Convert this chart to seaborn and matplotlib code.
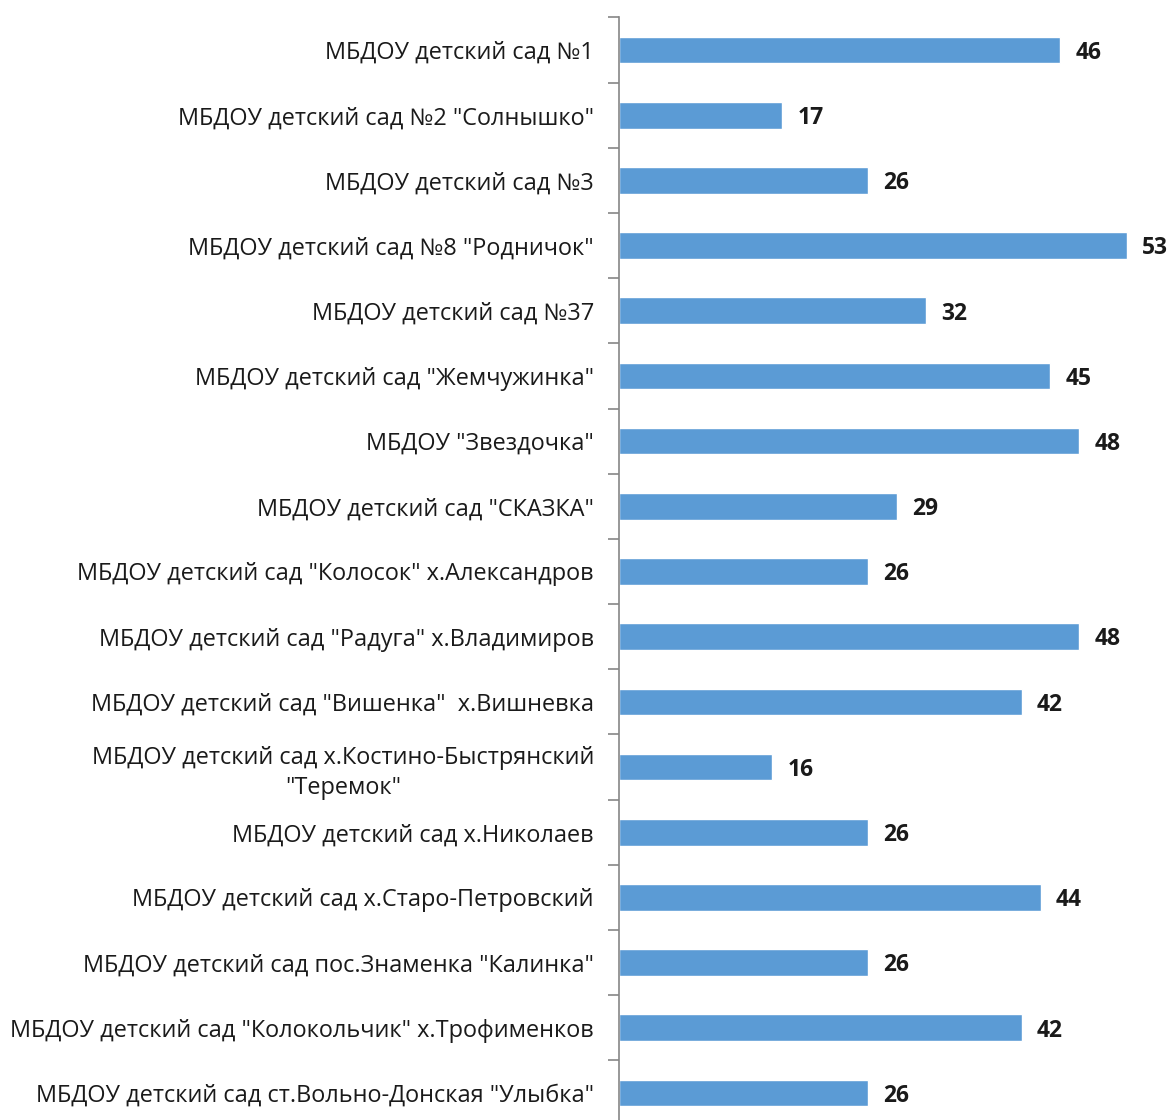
import matplotlib
matplotlib.use("Agg")
import matplotlib.pyplot as plt
import seaborn as sns
import pandas as pd
import numpy as np

categories = [
    'МБДОУ детский сад №1',
    'МБДОУ детский сад №2 "Солнышко"',
    'МБДОУ детский сад №3',
    'МБДОУ детский сад №8 "Родничок"',
    'МБДОУ детский сад №37',
    'МБДОУ детский сад "Жемчужинка"',
    'МБДОУ "Звездочка"',
    'МБДОУ детский сад "СКАЗКА"',
    'МБДОУ детский сад "Колосок" х.Александров',
    'МБДОУ детский сад "Радуга" х.Владимиров',
    'МБДОУ детский сад "Вишенка"  х.Вишневка',
    'МБДОУ детский сад х.Костино-Быстрянский\n"Теремок"',
    'МБДОУ детский сад х.Николаев',
    'МБДОУ детский сад х.Старо-Петровский',
    'МБДОУ детский сад пос.Знаменка "Калинка"',
    'МБДОУ детский сад "Колокольчик" х.Трофименков',
    'МБДОУ детский сад ст.Вольно-Донская "Улыбка"',
]
values = [46, 17, 26, 53, 32, 45, 48, 29, 26, 48, 42, 16, 26, 44, 26, 42, 26]

sns.set_theme(style="white")
plt.rcParams['font.family'] = ['Open Sans', 'DejaVu Sans']

df = pd.DataFrame({"cat": categories, "val": values})

fig = plt.figure(figsize=(11.72, 11.2), dpi=100)
ax = fig.add_axes([619 / 1172, -5.6 / 1120, (1172 - 619) / 1172, 1108.2 / 1120])

sns.barplot(data=df, y="cat", x="val", orient="h", color="#5B9BD5",
            saturation=1, width=0.41, ax=ax)

ax.set_xlim(0, 553 / 9.585)
ax.set_ylim(len(categories) - 0.5, -0.5)
ax.set_xlabel("")
ax.set_ylabel("")
ax.set_xticks([])

for s in ["top", "right", "bottom"]:
    ax.spines[s].set_visible(False)
ax.spines["left"].set_color("#868686")
ax.spines["left"].set_linewidth(1.2)

ax.tick_params(axis="y", which="major", length=0, pad=18)
ax.set_yticks(np.arange(len(categories) + 1) - 0.5, minor=True)
ax.tick_params(axis="y", which="minor", length=8, width=1.2, color="#868686", left=True)
for lbl in ax.get_yticklabels():
    lbl.set_fontsize(16.9)
    lbl.set_color("#1a1a1a")
    lbl.set_multialignment("center")
    lbl.set_linespacing(1.35)

for c in ax.containers:
    texts = ax.bar_label(c, padding=11, fontsize=16.5, fontweight="bold", color="#1a1a1a")
    for t in texts:
        x0, y0 = t.xyann
        t.xyann = (x0, y0 - 2)

fig.savefig("out.png", dpi=100)
